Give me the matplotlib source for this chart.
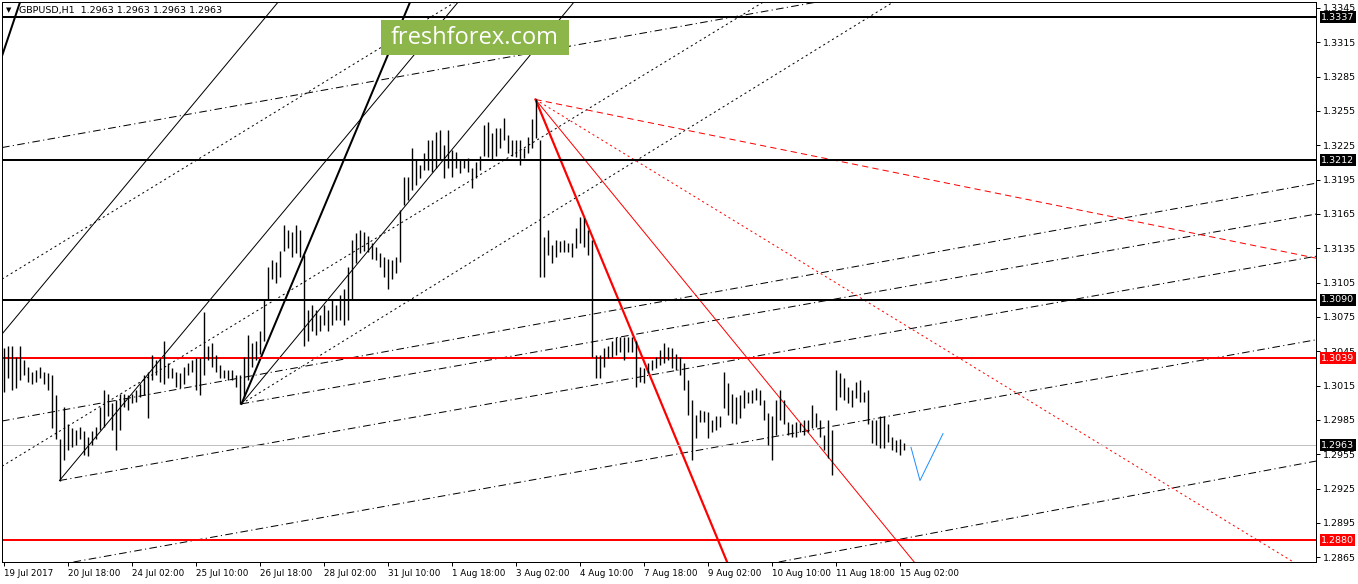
import matplotlib
matplotlib.use('Agg')
import matplotlib.pyplot as plt
import matplotlib.transforms as mtransforms
from matplotlib.patches import Rectangle
import numpy as np

plt.rcParams['font.family'] = 'DejaVu Sans'
plt.rcParams['lines.scale_dashes'] = False

# GBPUSD H1, one plotted bar every 2 hours (high / low)
highs = [1.3048, 1.3050, 1.3050, 1.3040, 1.3050, 1.3037, 1.3031, 1.3027, 1.3029, 1.3031,
         1.3027, 1.3026, 1.3024, 1.3007, 1.2968, 1.2996, 1.2981, 1.2978, 1.2976, 1.2979,
         1.2975, 1.2970, 1.2975, 1.2979, 1.2996, 1.3011, 1.3008, 1.3000, 1.3002, 1.3008,
         1.3008, 1.3007, 1.3008, 1.3011, 1.3016, 1.3024, 1.3027, 1.3042, 1.3037, 1.3039,
         1.3054, 1.3035, 1.3030, 1.3027, 1.3026, 1.3031, 1.3035, 1.3037, 1.3039, 1.3039,
         1.3079, 1.3050, 1.3052, 1.3042, 1.3033, 1.3029, 1.3029, 1.3029, 1.3024, 1.3024,
         1.3040, 1.3059, 1.3052, 1.3054, 1.3063, 1.3090, 1.3119, 1.3125, 1.3123, 1.3133,
         1.3155, 1.3151, 1.3149, 1.3155, 1.3151, 1.3129, 1.3081, 1.3085, 1.3081, 1.3077,
         1.3085, 1.3081, 1.3090, 1.3085, 1.3094, 1.3099, 1.3119, 1.3142, 1.3148, 1.3151,
         1.3149, 1.3146, 1.3140, 1.3136, 1.3131, 1.3127, 1.3126, 1.3125, 1.3127, 1.3168,
         1.3197, 1.3197, 1.3223, 1.3212, 1.3208, 1.3218, 1.3230, 1.3230, 1.3237, 1.3238,
         1.3225, 1.3238, 1.3221, 1.3219, 1.3212, 1.3212, 1.3214, 1.3205, 1.3210, 1.3216,
         1.3243, 1.3245, 1.3236, 1.3240, 1.3240, 1.3249, 1.3234, 1.3230, 1.3230, 1.3230,
         1.3223, 1.3232, 1.3248, 1.3265, 1.3230, 1.3145, 1.3151, 1.3138, 1.3142, 1.3141,
         1.3142, 1.3140, 1.3140, 1.3153, 1.3162, 1.3161, 1.3151, 1.3142, 1.3042, 1.3042,
         1.3048, 1.3050, 1.3054, 1.3057, 1.3057, 1.3057, 1.3057, 1.3057, 1.3054, 1.3031,
         1.3030, 1.3035, 1.3037, 1.3040, 1.3046, 1.3052, 1.3049, 1.3048, 1.3043, 1.3040,
         1.3035, 1.3020, 1.3002, 1.2989, 1.2994, 1.2993, 1.2992, 1.2985, 1.2988, 1.2988,
         1.3027, 1.3017, 1.3008, 1.3005, 1.3007, 1.3011, 1.3009, 1.3011, 1.3013, 1.3011,
         1.3002, 1.2991, 1.2988, 1.3002, 1.3011, 1.3002, 1.2983, 1.2981, 1.2983, 1.2982,
         1.2985, 1.2985, 1.2998, 1.2991, 1.2985, 1.2972, 1.2985, 1.2976, 1.3029, 1.3026,
         1.3022, 1.3014, 1.3011, 1.3018, 1.3020, 1.3009, 1.3011, 1.2985, 1.2985, 1.2988,
         1.2988, 1.2981, 1.2970, 1.2967, 1.2968, 1.2965]
lows = [1.3009, 1.3022, 1.3011, 1.3013, 1.3020, 1.3024, 1.3018, 1.3016, 1.3018, 1.3022,
        1.3016, 1.3011, 1.2978, 1.2968, 1.2932, 1.2950, 1.2959, 1.2961, 1.2963, 1.2968,
        1.2954, 1.2953, 1.2963, 1.2968, 1.2976, 1.2979, 1.2988, 1.2976, 1.2959, 1.2976,
        1.2996, 1.2994, 1.3000, 1.3001, 1.3005, 1.3007, 1.2987, 1.3020, 1.3024, 1.3018,
        1.3016, 1.3022, 1.3022, 1.3014, 1.3013, 1.3016, 1.3024, 1.3027, 1.3011, 1.3007,
        1.3024, 1.3037, 1.3031, 1.3027, 1.3022, 1.3022, 1.3020, 1.3020, 1.3014, 1.2999,
        1.3005, 1.3020, 1.3031, 1.3037, 1.3043, 1.3054, 1.3091, 1.3108, 1.3105, 1.3110,
        1.3133, 1.3135, 1.3127, 1.3131, 1.3127, 1.3050, 1.3054, 1.3063, 1.3059, 1.3063,
        1.3068, 1.3063, 1.3068, 1.3072, 1.3072, 1.3068, 1.3072, 1.3090, 1.3122, 1.3131,
        1.3133, 1.3132, 1.3126, 1.3125, 1.3119, 1.3110, 1.3099, 1.3108, 1.3113, 1.3123,
        1.3173, 1.3177, 1.3186, 1.3190, 1.3196, 1.3203, 1.3203, 1.3202, 1.3205, 1.3212,
        1.3196, 1.3205, 1.3197, 1.3205, 1.3201, 1.3205, 1.3202, 1.3188, 1.3196, 1.3203,
        1.3216, 1.3215, 1.3212, 1.3216, 1.3223, 1.3230, 1.3218, 1.3216, 1.3215, 1.3208,
        1.3214, 1.3218, 1.3223, 1.3231, 1.3110, 1.3110, 1.3129, 1.3122, 1.3127, 1.3132,
        1.3132, 1.3132, 1.3127, 1.3135, 1.3140, 1.3136, 1.3129, 1.3040, 1.3022, 1.3022,
        1.3031, 1.3039, 1.3040, 1.3042, 1.3044, 1.3037, 1.3044, 1.3044, 1.3014, 1.3018,
        1.3017, 1.3026, 1.3029, 1.3030, 1.3033, 1.3035, 1.3037, 1.3030, 1.3029, 1.3024,
        1.3011, 1.2989, 1.2950, 1.2969, 1.2983, 1.2983, 1.2969, 1.2974, 1.2976, 1.2979,
        1.2995, 1.2989, 1.2982, 1.2981, 1.2987, 1.2995, 1.3000, 1.3000, 1.3002, 1.2998,
        1.2985, 1.2963, 1.2950, 1.2972, 1.2985, 1.2981, 1.2972, 1.2970, 1.2970, 1.2974,
        1.2972, 1.2974, 1.2978, 1.2979, 1.2970, 1.2959, 1.2952, 1.2937, 1.2994, 1.3005,
        1.3002, 1.3000, 1.2996, 1.3004, 1.3001, 1.3001, 1.2981, 1.2965, 1.2963, 1.2960,
        1.2960, 1.2966, 1.2959, 1.2957, 1.2954, 1.2959]
bar_step = 2  # hours per plotted bar

date_labels = ['19 Jul 2017', '20 Jul 18:00', '24 Jul 02:00', '25 Jul 10:00', '26 Jul 18:00',
               '28 Jul 02:00', '31 Jul 10:00', '1 Aug 18:00', '3 Aug 02:00', '4 Aug 10:00',
               '7 Aug 18:00', '9 Aug 02:00', '10 Aug 10:00', '11 Aug 18:00', '15 Aug 02:00']
label_every = 32  # hours

last_price = 1.2963
black_levels = [1.3337, 1.3212, 1.3090]
red_levels = [1.3039, 1.2880]

# anchor points of the drawn objects (hour index, price)
low_pt = (28, 1.2932)
mid_pt = (119, 1.2999)
peak_pt = (266, 1.3265)

thick_lines = [((-0.75, 1.3303), (8.25, 1.3350))]
thick_rays = [(mid_pt, (203.25, 1.3350))]
solid_lines = [((-0.75, 1.3060), (137.25, 1.3350))]
solid_rays = [(low_pt, (227.25, 1.3350)), (mid_pt, (284.25, 1.3348))]
dot_lines = [((-0.75, 1.3108), (225.75, 1.3350)), ((-0.25, 1.2945), (364.75, 1.3334))]
dot_rays = [(mid_pt, (431.75, 1.3336))]
dashdot_lines = [((-0.75, 1.3223), (399.75, 1.3348)), ((-0.75, 1.2984), (656.75, 1.3192)),
                 ((29.25, 1.2859), (656.25, 1.3055)), ((388.25, 1.2861), (656.25, 1.2949))]
dashdot_rays = [(mid_pt, (656.75, 1.3165)), (low_pt, (656.25, 1.3128))]
red_thick_to = (361.75, 1.2861)
red_thin_to = (455.25, 1.2861)
red_dot_to = (644.75, 1.2861)
red_dash_to = (657.25, 1.3126)

forecast_h = [453.75, 458.25, 469.75]
forecast_p = [1.2961, 1.2932, 1.2973]

W, H = 1358, 584
px = 0.72  # one pixel in points
fs = 6.8

fig = plt.figure(figsize=(W / 100, H / 100), dpi=100)
ax = fig.add_axes([2 / W, 22 / H, 1314 / W, 560 / H])
ax.set_xlim(-0.75, 656.25)
ax.set_ylim(1.28608, 1.33502)

def ray(a, b, **kw):
    a = np.array(a); b = np.array(b)
    far = a + (b - a) * 20
    ax.plot([a[0], far[0]], [a[1], far[1]], **kw)

dashdot = (0, (5.5, 2.4, 0.8, 2.4))
dots = (0, (1.5, 2.2))

for p1, p2 in thick_lines:
    ax.axline(p1, p2, color='black', lw=2 * px)
for a, b in thick_rays:
    ray(a, b, color='black', lw=2 * px)
for p1, p2 in solid_lines:
    ax.axline(p1, p2, color='black', lw=px)
for a, b in solid_rays:
    ray(a, b, color='black', lw=px)
for p1, p2 in dot_lines:
    ax.axline(p1, p2, color='black', lw=px, linestyle=dots)
for a, b in dot_rays:
    ray(a, b, color='black', lw=px, linestyle=dots)
for p1, p2 in dashdot_lines:
    ax.axline(p1, p2, color='black', lw=px, linestyle=dashdot)
for a, b in dashdot_rays:
    ray(a, b, color='black', lw=px, linestyle=dashdot)

ray(peak_pt, red_thick_to, color='red', lw=2.2 * px)
ray(peak_pt, red_thin_to, color='red', lw=px)
ray(peak_pt, red_dot_to, color='red', lw=px, linestyle=dots)
ray(peak_pt, red_dash_to, color='red', lw=px, linestyle=(0, (4.5, 3)))

ax.axhline(last_price, color='#C0C0C0', lw=px)
for lv in black_levels:
    ax.axhline(lv, color='black', lw=2 * px)
for lv in red_levels:
    ax.axhline(lv, color='red', lw=2 * px)

hours = np.arange(len(highs)) * bar_step
ax.vlines(hours, lows, highs, colors='black', lw=1.0, zorder=3)

ax.plot(forecast_h, forecast_p, color='#1E90FF', lw=px, zorder=4)

# axes
ax.yaxis.tick_right()
yt = np.round(np.arange(1.2865, 1.3346, 0.003), 4)
ax.set_yticks(yt)
ax.set_yticklabels(['%.4f' % v for v in yt])
xt = np.arange(len(date_labels)) * label_every
ax.set_xticks(xt)
ax.set_xticklabels(date_labels, ha='left')
ax.tick_params(direction='out', length=4 * px, width=px, pad=2, colors='black')
ax.tick_params(axis='y', labelsize=fs)
ax.tick_params(axis='x', labelsize=6.3)
for s in ax.spines.values():
    s.set_linewidth(px)

trans = mtransforms.blended_transform_factory(ax.transAxes, ax.transData)
for lv, fc in [(1.3337, 'black'), (1.3212, 'black'), (1.3090, 'black'),
               (last_price, 'black'), (1.3039, 'red'), (1.2880, 'red')]:
    ax.text(1.0 + 5 / 1314, lv, '%.4f' % lv, transform=trans, ha='left', va='center',
            fontsize=fs, color='white', clip_on=False, zorder=10,
            bbox=dict(boxstyle='square,pad=0.15', fc=fc, ec='none'))

# title and watermark
fig.text(6 / W, 1 - 10 / H, '\u25bc', fontsize=5, va='center', ha='left')
fig.text(19 / W, 1 - 10 / H, 'GBPUSD,H1  1.2963 1.2963 1.2963 1.2963', fontsize=fs,
         va='center', ha='left')
fig.add_artist(Rectangle((381 / W, 1 - 55 / H), 188 / W, 35 / H, transform=fig.transFigure,
                         facecolor='#8CB54A', edgecolor='none', zorder=20))
fig.text(475 / W, 1 - 38 / H, 'freshforex.com', fontsize=17, family='Open Sans',
         color='white', ha='center', va='center', zorder=21)

fig.savefig('out.png', dpi=100)
